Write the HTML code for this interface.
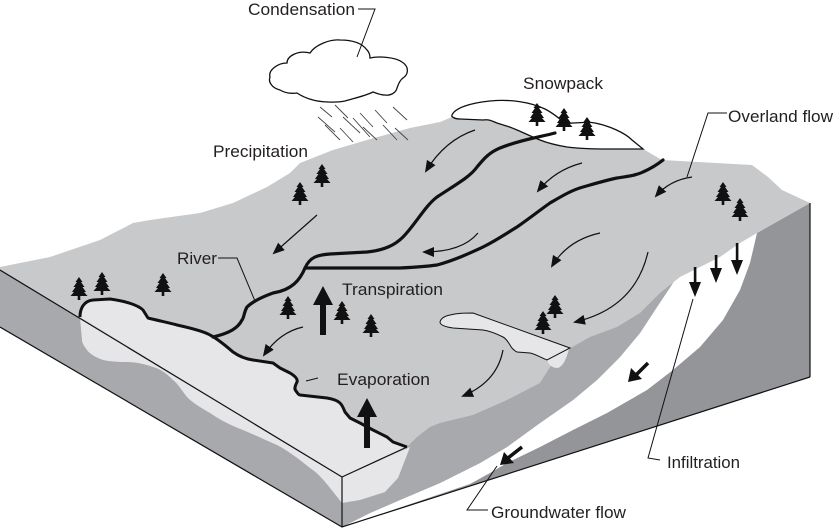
<!DOCTYPE html>
<html>
<head>
<meta charset="utf-8">
<style>
  html,body{margin:0;padding:0;background:#fff;}
  svg{display:block;}
  text{font-family:"Liberation Sans", Arial, sans-serif;font-size:17px;fill:#231f20;}
</style>
</head>
<body>
<svg width="835" height="529" viewBox="0 0 835 529" xmlns="http://www.w3.org/2000/svg">
  <defs>
    <marker id="ah" viewBox="0 0 12 10" refX="10" refY="5" markerWidth="12" markerHeight="10" orient="auto" markerUnits="userSpaceOnUse">
      <path d="M0,0 L12,5 L0,10 Z" fill="#111"/>
    </marker>
    <symbol id="tree" viewBox="-9 0 18 24" width="18" height="24" overflow="visible">
      <path d="M0,0 L3.5,5 L2,5 L5.5,10 L3.5,10 L7,15 L5,15 L8.5,19 L1.3,19 L1.3,23 L-1.3,23 L-1.3,19 L-8.5,19 L-5,15 L-7,15 L-3.5,10 L-5.5,10 L-2,5 L-3.5,5 Z" fill="#111"/>
    </symbol>
  </defs>

  <!-- Left face -->
  <polygon points="0,270 342,477 342,527 0,327" fill="#a8a9ac"/>
  <path d="M80,318 L342,477 L342,503 C330,488 320,474 310,468 C300,460 290,452 277,445 C265,440 255,435 243,430 C230,425 220,420 210,413 C198,406 192,402 187,397 C180,388 178,384 173,380 C165,372 160,369 153,367 C145,364 135,362 127,362 C115,362 108,361 103,360 C95,357 90,354 87,350 C84,346 82,343 82,340 Z" fill="#e6e6e8"/>

  <!-- Front face base (dark) -->
  <polygon points="342,477 407,447 757,233 810,203 810,377 342,527" fill="#949599"/>
  <!-- White band -->
  <polygon points="342,527 470,484 490,473 507,463 540,447 573,430 607,413 647,390 673,370 700,347 723,320 740,290 750,263 757,233 720,240 687,262 673,283 657,307 640,333 620,357 597,380 573,400 540,423 507,447 480,463 440,483 400,500 370,513" fill="#ffffff"/>
  <!-- Medium layer -->
  <polygon points="342,477 407,440 420,420 500,380 600,320 690,255 687,262 673,283 657,307 640,333 620,357 597,380 573,400 540,423 507,447 480,463 440,483 400,500 370,513 342,527" fill="#a8a9ac"/>
  <!-- Light lake front part -->
  <polygon points="342,477 410,447 405,460 398,478 385,492 360,500 342,503" fill="#e6e6e8"/>

  <!-- Top surface -->
  <path d="M0,267 L50,257 L100,240 L133,223 L150,220 L200,213 L233,203 L267,187 L290,173 L300,163 L333,150 L367,140 L410,128 L440,122 L452,117 L460,119 L487,119 L497,123 L517,130 L540,140 L567,147 L607,149 L643,149 L662,160 L698,162 L752,165 L768,177 L782,190 L810,203 L757,233 L740,243 L720,257 L700,267 L680,277 L660,293 L640,313 L617,327 L590,337 L567,350 L550,367 L540,383 L507,400 L473,415 L440,423 L430,427 L417,437 L407,447 L342,477 L0,270 Z" fill="#c8c9cb"/>

  <!-- Lake on top -->
  <path d="M80,317 C80,308 84,301 93,300 L110,299 C125,301 138,305 143,310 L148,318 C160,321 170,323 177,325 C195,329 205,332 210,335 C218,339 226,346 233,352 C240,357 246,359 253,360 L273,363 L280,368 L290,373 C295,376 298,379 297,382 C295,386 294,389 296,391 C298,394 299,395 300,395 L327,398 C333,399 338,401 340,403 C343,406 344,410 345,412 L350,418 L360,423 L373,430 L387,437 L393,442 L407,447 L342,477 Z" fill="#e6e6e8"/>
  <path d="M80,317 C80,308 84,301 93,300 L110,299 C125,301 138,305 143,310 L148,318 C160,321 170,323 177,325 C195,329 205,332 210,335 C218,339 226,346 233,352 C240,357 246,359 253,360 L273,363 L280,368 L290,373 C295,376 298,379 297,382 C295,386 294,389 296,391 C298,394 299,395 300,395 L327,398 C333,399 338,401 340,403 C343,406 344,410 345,412 L350,418 L360,423 L373,430 L387,437 L393,442 L407,447" fill="none" stroke="#111" stroke-width="3" stroke-linejoin="round"/>

  <!-- Block edges -->
  <g stroke="#111" stroke-width="1.2" fill="none">
    <line x1="0" y1="270" x2="342" y2="477"/>
    <line x1="342" y1="477" x2="407" y2="447"/>
    <line x1="342" y1="477" x2="342" y2="527"/>
    <polyline points="0,327 342,527 810,377"/>
    <line x1="810" y1="203" x2="810" y2="377"/>
  </g>

  <!-- Pond -->
  <path d="M547,360 C549,366 553,368 558,368 C563,366 566,360 569,349 Z" fill="#e6e6e8"/>
  <path d="M440,322 C441,318 445,316 450,315 C458,313 465,313 473,313 L570,348 L547,360 C540,357 535,354 530,353 L517,352 C513,350 511,347 510,345 C507,340 505,338 503,337 C495,333 490,331 483,330 L453,328 C446,327 440,325 440,322 Z" fill="#e6e6e8" stroke="#111" stroke-width="1"/>

  <!-- Snowpack -->
  <path d="M452,115 C455,108 470,103 490,101 C510,99 530,102 545,109 C555,114 560,120 566,123 C575,124 585,121 595,123 C610,126 625,133 632,140 L643,149 L607,149 C590,149 575,148 567,147 C555,145 545,142 540,140 C530,136 522,132 517,130 C508,126 500,124 497,123 C492,121 489,119 483,120 L460,119 C455,119 451,117 452,115 Z" fill="#fff" stroke="#111" stroke-width="1.3"/>

  <!-- Rivers -->
  <g fill="none" stroke="#111" stroke-width="3.2" stroke-linecap="round" stroke-linejoin="round">
    <path d="M555,133 C540,137 520,140 500,148 C488,153 483,160 477,167 C470,177 455,185 437,197 C425,206 415,225 403,237 C395,245 385,250 367,252 L330,254 C317,255 310,257 305,268 C300,280 292,290 273,293 C262,297 252,302 247,307 C244,312 244,318 242,320 C238,328 230,333 213,337"/>
    <path d="M305,268 L350,268 L400,268 C420,267 430,266 437,265 C455,260 470,253 483,247 C497,240 507,233 517,227 C530,218 540,210 550,203 C562,196 572,190 583,187 C597,183 607,180 617,178 C630,176 637,175 643,172 C652,168 658,164 663,160"/>
  </g>

  <!-- Cloud -->
  <path d="M270,77 C268,70 278,63 287,63 C287,56 298,50 310,53 C315,45 330,39 340,40 C352,40 362,43 367,50 C370,53 370,56 370,58 C378,56 395,57 402,62 C410,67 408,75 403,78 C400,80 398,85 397,88 C396,93 390,96 385,95 C380,95 376,93 373,92 C365,96 355,98 345,101 C335,103 320,102 313,100 C305,98 300,95 297,93 C290,94 285,93 280,90 C272,88 268,82 270,77 Z" fill="#fff" stroke="#111" stroke-width="1.3"/>

  <!-- Rain -->
  <g stroke="#444" stroke-width="0.9">
    <line x1="320" y1="107" x2="332" y2="117"/>
    <line x1="335" y1="105" x2="348" y2="118"/>
    <line x1="318" y1="117" x2="335" y2="132"/>
    <line x1="325" y1="125" x2="340" y2="140"/>
    <line x1="343" y1="117" x2="360" y2="133"/>
    <line x1="340" y1="128" x2="353" y2="142"/>
    <line x1="353" y1="118" x2="370" y2="137"/>
    <line x1="360" y1="113" x2="373" y2="127"/>
    <line x1="375" y1="110" x2="387" y2="123"/>
    <line x1="393" y1="107" x2="407" y2="120"/>
    <line x1="383" y1="125" x2="397" y2="140"/>
    <line x1="363" y1="127" x2="377" y2="140"/>
    <line x1="395" y1="128" x2="408" y2="140"/>
  </g>

  <!-- Trees -->
  <g>
    <use href="#tree" x="313" y="164"/>
    <use href="#tree" x="291" y="182"/>
    <use href="#tree" x="70" y="277"/>
    <use href="#tree" x="93" y="272"/>
    <use href="#tree" x="154" y="273"/>
    <use href="#tree" x="279" y="296"/>
    <use href="#tree" x="333" y="301"/>
    <use href="#tree" x="362" y="314"/>
    <use href="#tree" x="528" y="103"/>
    <use href="#tree" x="555" y="108"/>
    <use href="#tree" x="578" y="117"/>
    <use href="#tree" x="714" y="182"/>
    <use href="#tree" x="731" y="198"/>
    <use href="#tree" x="546" y="295"/>
    <use href="#tree" x="534" y="311"/>
  </g>

  <!-- Thin flow arrows -->
  <g fill="none" stroke="#111" stroke-width="1.2" marker-end="url(#ah)">
    <path d="M317,215 L274,253"/>
    <path d="M475,130 Q445,140 426,171"/>
    <path d="M582,163 Q555,170 538,191"/>
    <path d="M692,177 Q670,180 656,196"/>
    <path d="M478,233 Q462,252 424,252"/>
    <path d="M600,233 Q568,240 552,266"/>
    <path d="M648,252 Q635,308 575,322"/>
    <path d="M303,327 Q280,332 264,355"/>
    <path d="M503,350 Q497,382 463,396"/>
  </g>

  <!-- Transpiration & Evaporation arrows -->
  <g fill="#111">
    <rect x="320" y="300" width="6" height="35"/>
    <polygon points="313,305 323,286 333,305"/>
    <rect x="364" y="412" width="6" height="36"/>
    <polygon points="357,417 367,398 377,417"/>
  </g>

  <!-- Infiltration arrows -->
  <g fill="#111">
    <rect x="693.8" y="267" width="2.6" height="18"/>
    <polygon points="689,282 701,282 695,297"/>
    <rect x="714.8" y="255" width="2.6" height="16"/>
    <polygon points="710,268 722,268 716,283"/>
    <rect x="735.8" y="243" width="2.6" height="20"/>
    <polygon points="731,260 743,260 737,275"/>
  </g>

  <!-- Groundwater arrows -->
  <g>
    <line x1="648" y1="363" x2="636" y2="375" stroke="#111" stroke-width="3.5"/>
    <polygon points="628,382 631,368 642,379" fill="#111"/>
    <line x1="522" y1="447" x2="508" y2="458" stroke="#111" stroke-width="3.5"/>
    <polygon points="500,465 504,452 514,463" fill="#111"/>
  </g>

  <!-- Leader lines -->
  <g fill="none" stroke="#111" stroke-width="1">
    <polyline points="358,9 375,9 357,57"/>
    <polyline points="218,258 237,258 255,301"/>
    <polyline points="727,113 708,113 687,177"/>
    <line x1="318" y1="378" x2="306" y2="381"/>
    <polyline points="693,299 648,458 660,460"/>
    <polyline points="488,510 467,510 497,466"/>
  </g>

  <!-- Labels -->
  <text x="248" y="15" textLength="107" lengthAdjust="spacingAndGlyphs">Condensation</text>
  <text x="213" y="157" textLength="95" lengthAdjust="spacingAndGlyphs">Precipitation</text>
  <text x="177" y="264" textLength="40" lengthAdjust="spacingAndGlyphs">River</text>
  <text x="523" y="89" textLength="80" lengthAdjust="spacingAndGlyphs">Snowpack</text>
  <text x="728" y="122" textLength="105" lengthAdjust="spacingAndGlyphs">Overland flow</text>
  <text x="342" y="295" textLength="101" lengthAdjust="spacingAndGlyphs">Transpiration</text>
  <text x="337" y="385" textLength="93" lengthAdjust="spacingAndGlyphs">Evaporation</text>
  <text x="667" y="468" textLength="73" lengthAdjust="spacingAndGlyphs">Infiltration</text>
  <text x="491" y="518" textLength="135" lengthAdjust="spacingAndGlyphs">Groundwater flow</text>
</svg>
</body>
</html>
